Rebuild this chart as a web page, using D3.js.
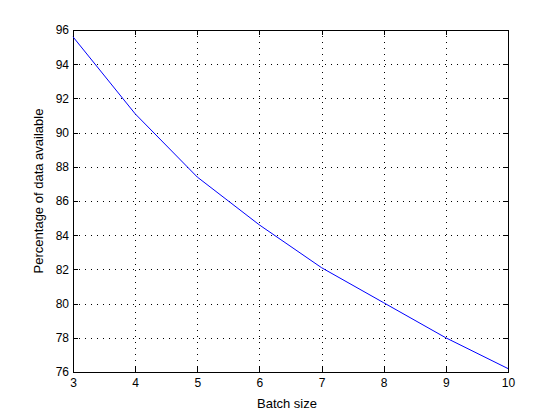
<!DOCTYPE html>
<html>
<head>
<meta charset="utf-8">
<script src="https://cdn.jsdelivr.net/npm/d3@7"></script>
<style>
	body { margin: 0; background: #fff; }
	svg text { font-family: "Liberation Sans", Arial, sans-serif; font-size: 13px; fill: #000; }
	.grid line { stroke: #000; stroke-width: 1; stroke-dasharray: 1,5; shape-rendering: crispEdges; }
	.tick line { shape-rendering: crispEdges; }
</style>
</head>
<body>
<svg id="chart"></svg>
<script>
// batch sizes and share of data still usable
const batchSize	= [3, 4, 5, 6, 7, 8, 9, 10];
const available	= [95.6, 91.1, 87.4, 84.6, 82.1, 80.05, 78.0, 76.2];
const xTicks	= [3, 4, 5, 6, 7, 8, 9, 10];
const yTicks	= [76, 78, 80, 82, 84, 86, 88, 90, 92, 94, 96];

let canvasWidth		= 559;
let canvasHeight	= 419;
let margin			= { top: 30, right: 51, bottom: 47, left: 73 };
let width			= canvasWidth - margin.left - margin.right;
let height			= canvasHeight - margin.top - margin.bottom;

let svg = d3.select('#chart')
	.attr('width', canvasWidth)
	.attr('height', canvasHeight)
	.append('g')
		.attr('transform', 'translate(' + margin.left + ',' + margin.top + ')');

let x = d3.scaleLinear().domain([3, 10]).range([0, width]);
let y = d3.scaleLinear().domain([76, 96]).range([height, 0]);

// dotted grid
let grid = svg.append('g').attr('class', 'grid');
grid.selectAll('.gx').data(xTicks.slice(1, -1)).enter().append('line')
	.attr('x1', (d) => Math.round(x(d)) + .5).attr('x2', (d) => Math.round(x(d)) + .5)
	.attr('y1', 0).attr('y2', height);
grid.selectAll('.gy').data(yTicks.slice(1, -1)).enter().append('line')
	.attr('y1', (d) => Math.round(y(d)) + .5).attr('y2', (d) => Math.round(y(d)) + .5)
	.attr('x1', 0).attr('x2', width);

// axes with inward ticks on all four sides
let axisStyle = (g) => {
	g.select('.domain').remove();
	g.selectAll('.tick line').attr('stroke', '#000');
	g.selectAll('text').style('font-size', '12px');
};
svg.append('g')
	.attr('transform', 'translate(0,' + height + ')')
	.call(d3.axisBottom(x).tickValues(xTicks).tickSize(-5).tickPadding(6).tickFormat(d3.format('d')))
	.call(axisStyle);
svg.append('g')
	.call(d3.axisTop(x).tickValues(xTicks).tickSize(-5).tickFormat(''))
	.call(axisStyle);
svg.append('g')
	.call(d3.axisLeft(y).tickValues(yTicks).tickSize(-5).tickPadding(4).tickFormat(d3.format('d')))
	.call(axisStyle);
svg.append('g')
	.attr('transform', 'translate(' + width + ',0)')
	.call(d3.axisRight(y).tickValues(yTicks).tickSize(-5).tickFormat(''))
	.call(axisStyle);

svg.append('rect')
	.attr('x', .5).attr('y', .5)
	.attr('width', width).attr('height', height)
	.attr('fill', 'none').attr('stroke', '#000')
	.attr('shape-rendering', 'crispEdges');

let lineFunc = d3.line().x((d, i) => x(batchSize[i])).y((d) => y(d));
svg.append('path')
	.attr('d', lineFunc(available))
	.attr('fill', 'none')
	.attr('stroke', '#0000ff')
	.attr('stroke-width', 1);

svg.append('text')
	.attr('text-anchor', 'middle')
	.attr('x', 214)
	.attr('y', height + 36)
	.text('Batch size');

svg.append('text')
	.attr('text-anchor', 'middle')
	.attr('transform', 'translate(-30,' + (height / 2 - 10) + ') rotate(-90)')
	.text('Percentage of data available');
</script>
</body>
</html>
